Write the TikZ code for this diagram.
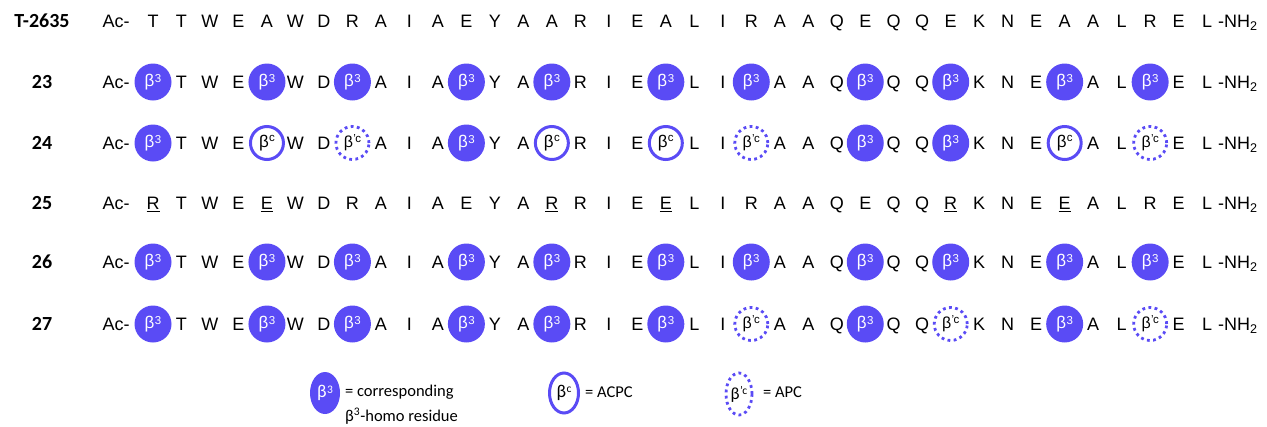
\documentclass[tikz,border=0pt]{standalone}
\usepackage{fontspec}
\setmainfont{Liberation Sans}
\newfontfamily\calfont{Carlito}
\usetikzlibrary{shapes.geometric}
\definecolor{bblue}{RGB}{90,75,245}
\newcommand\supnum[2]{\raisebox{#1}{\fontsize{11.5}{12}\selectfont #2}}
\newcommand\bthr{β\kern0.5pt\supnum{4pt}{3}}
\newcommand\bcc{β\kern0.3pt\supnum{5.5pt}{c}}
\newcommand\bpc{β\kern0.3pt\supnum{5pt}{’\kern-0.5pt c}}
\tikzset{
  resl/.style={font=\fontsize{18}{20}\selectfont, inner sep=0pt, text height=12.9pt, text depth=0pt},
  resb/.style={circle, fill=bblue, minimum size=37pt, inner sep=0pt, text=white, font=\fontsize{17}{19}\selectfont},
  resc/.style={circle, draw=bblue, line width=3pt, minimum size=33pt, inner sep=0pt, font=\fontsize{17}{19}\selectfont},
  resp/.style={circle, draw=bblue, line width=2.8pt, dash pattern=on 2.8pt off 3.4pt, minimum size=33pt, inner sep=0pt, font=\fontsize{16}{18}\selectfont},
  rowlbl/.style={font=\calfont\bfseries\fontsize{20}{22}\selectfont, inner sep=0pt},
  legtxt/.style={font=\calfont\fontsize{16.5}{18}\selectfont, inner sep=0pt, anchor=west},
}
\newcommand\Rl[1]{\node[resl] (\rn-\i) at (\px,\py) {#1};}
\newcommand\Ru[1]{\node[resl] (\rn-\i) at (\px,\py) {\underline{#1}};}
\newcommand\Rb{\node[resb] (\rn-\i) at (\px,\py) {\bthr};}
\newcommand\Rc{\node[resc] (\rn-\i) at (\px,\py) {\bcc};}
\newcommand\Rp{\node[resp] (\rn-\i) at (\px,\py) {\bpc};}
\newcommand\seqrow[4]{%
  \def\rn{#1}\def\py{#2}%
  \node[rowlbl] (#1-lab) at (42,#2) {#3};
  \node[resl] (#1-ac) at (116,#2) {Ac-};
  \foreach \tk [count=\i] in {#4} {\pgfmathsetmacro\px{153+(\i-1)*28.49}\tk}
  \node[resl, anchor=west] (#1-nh) at (1218,#2) {-NH\textsubscript{2}};
}
\begin{document}
\begin{tikzpicture}[x=1pt,y=-1pt]
\useasboundingbox (0,0) rectangle (1267,426);
\seqrow{s0}{21}{T-2635}{\Rl T,\Rl T,\Rl W,\Rl E,\Rl A,\Rl W,\Rl D,\Rl R,\Rl A,\Rl I,\Rl A,\Rl E,\Rl Y,\Rl A,\Rl A,\Rl R,\Rl I,\Rl E,\Rl A,\Rl L,\Rl I,\Rl R,\Rl A,\Rl A,\Rl Q,\Rl E,\Rl Q,\Rl Q,\Rl E,\Rl K,\Rl N,\Rl E,\Rl A,\Rl A,\Rl L,\Rl R,\Rl E,\Rl L}
\seqrow{s23}{82}{23}{\Rb,\Rl T,\Rl W,\Rl E,\Rb,\Rl W,\Rl D,\Rb,\Rl A,\Rl I,\Rl A,\Rb,\Rl Y,\Rl A,\Rb,\Rl R,\Rl I,\Rl E,\Rb,\Rl L,\Rl I,\Rb,\Rl A,\Rl A,\Rl Q,\Rb,\Rl Q,\Rl Q,\Rb,\Rl K,\Rl N,\Rl E,\Rb,\Rl A,\Rl L,\Rb,\Rl E,\Rl L}
\seqrow{s24}{143}{24}{\Rb,\Rl T,\Rl W,\Rl E,\Rc,\Rl W,\Rl D,\Rp,\Rl A,\Rl I,\Rl A,\Rb,\Rl Y,\Rl A,\Rc,\Rl R,\Rl I,\Rl E,\Rc,\Rl L,\Rl I,\Rp,\Rl A,\Rl A,\Rl Q,\Rb,\Rl Q,\Rl Q,\Rb,\Rl K,\Rl N,\Rl E,\Rc,\Rl A,\Rl L,\Rp,\Rl E,\Rl L}
\seqrow{s25}{203}{25}{\Ru R,\Rl T,\Rl W,\Rl E,\Ru E,\Rl W,\Rl D,\Rl R,\Rl A,\Rl I,\Rl A,\Rl E,\Rl Y,\Rl A,\Ru R,\Rl R,\Rl I,\Rl E,\Ru E,\Rl L,\Rl I,\Rl R,\Rl A,\Rl A,\Rl Q,\Rl E,\Rl Q,\Rl Q,\Ru R,\Rl K,\Rl N,\Rl E,\Ru E,\Rl A,\Rl L,\Rl R,\Rl E,\Rl L}
\seqrow{s26}{262}{26}{\Rb,\Rl T,\Rl W,\Rl E,\Rb,\Rl W,\Rl D,\Rb,\Rl A,\Rl I,\Rl A,\Rb,\Rl Y,\Rl A,\Rb,\Rl R,\Rl I,\Rl E,\Rb,\Rl L,\Rl I,\Rb,\Rl A,\Rl A,\Rl Q,\Rb,\Rl Q,\Rl Q,\Rb,\Rl K,\Rl N,\Rl E,\Rb,\Rl A,\Rl L,\Rb,\Rl E,\Rl L}
\seqrow{s27}{324}{27}{\Rb,\Rl T,\Rl W,\Rl E,\Rb,\Rl W,\Rl D,\Rb,\Rl A,\Rl I,\Rl A,\Rb,\Rl Y,\Rl A,\Rb,\Rl R,\Rl I,\Rl E,\Rb,\Rl L,\Rl I,\Rp,\Rl A,\Rl A,\Rl Q,\Rb,\Rl Q,\Rl Q,\Rp,\Rl K,\Rl N,\Rl E,\Rb,\Rl A,\Rl L,\Rp,\Rl E,\Rl L}
% legend
\node[ellipse, fill=bblue, minimum width=30pt, minimum height=42pt, inner sep=0pt, text=white, font=\calfont\fontsize{18}{20}\selectfont] (lg1) at (325,393) {\bthr};
\node[legtxt] (lg1t) at (345,392) {= corresponding};
\node[legtxt] (lg1u) at (345,416) {β\textsuperscript{3}-homo residue};
\node[ellipse, draw=bblue, line width=3pt, minimum width=29pt, minimum height=40pt, inner sep=0pt, font=\calfont\fontsize{18}{20}\selectfont] (lg2) at (564,393) {\bcc};
\node[legtxt] (lg2t) at (585,392) {= ACPC};
\node[ellipse, draw=bblue, line width=2.8pt, dash pattern=on 2.8pt off 3.4pt, minimum width=26pt, minimum height=42pt, inner sep=0pt, font=\calfont\fontsize{17}{19}\selectfont] (lg3) at (739,394) {\bpc};
\node[legtxt] (lg3t) at (763,392) {= APC};
\end{tikzpicture}
\end{document}
